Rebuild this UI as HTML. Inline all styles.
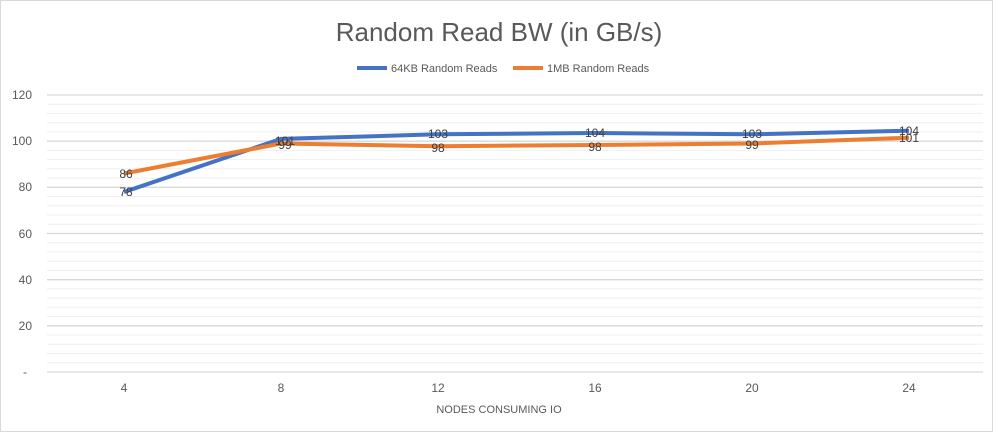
<!DOCTYPE html>
<html><head><style>
body{margin:0;background:#fff;}
svg text{font-family:"Liberation Sans",sans-serif;}
</style></head><body>
<svg width="999" height="433" viewBox="0 0 999 433">
<rect x="0.5" y="0.5" width="992" height="431" fill="#fff" stroke="#d9d9d9"/>
<text x="499" y="41" font-size="26" fill="#595959" text-anchor="middle">Random Read BW (in GB/s)</text>
<line x1="357" y1="68" x2="387" y2="68" stroke="#4472c4" stroke-width="4"/>
<text x="391" y="72" font-size="11" fill="#595959">64KB Random Reads</text>
<line x1="513" y1="68" x2="543" y2="68" stroke="#ed7d31" stroke-width="4"/>
<text x="547" y="72" font-size="11" fill="#595959">1MB Random Reads</text>
<g stroke="#efefef" stroke-width="1">
<line x1="47" x2="983" y1="104.2" y2="104.2"/><line x1="47" x2="983" y1="113.4" y2="113.4"/><line x1="47" x2="983" y1="122.7" y2="122.7"/><line x1="47" x2="983" y1="131.9" y2="131.9"/>
<line x1="47" x2="983" y1="150.4" y2="150.4"/><line x1="47" x2="983" y1="159.6" y2="159.6"/><line x1="47" x2="983" y1="168.8" y2="168.8"/><line x1="47" x2="983" y1="178.1" y2="178.1"/>
<line x1="47" x2="983" y1="196.5" y2="196.5"/><line x1="47" x2="983" y1="205.8" y2="205.8"/><line x1="47" x2="983" y1="215" y2="215"/><line x1="47" x2="983" y1="224.2" y2="224.2"/>
<line x1="47" x2="983" y1="242.7" y2="242.7"/><line x1="47" x2="983" y1="251.9" y2="251.9"/><line x1="47" x2="983" y1="261.2" y2="261.2"/><line x1="47" x2="983" y1="270.4" y2="270.4"/>
<line x1="47" x2="983" y1="288.9" y2="288.9"/><line x1="47" x2="983" y1="298.1" y2="298.1"/><line x1="47" x2="983" y1="307.3" y2="307.3"/><line x1="47" x2="983" y1="316.6" y2="316.6"/>
<line x1="47" x2="983" y1="335" y2="335"/><line x1="47" x2="983" y1="344.3" y2="344.3"/><line x1="47" x2="983" y1="353.5" y2="353.5"/><line x1="47" x2="983" y1="362.8" y2="362.8"/>
</g>
<g stroke="#d9d9d9" stroke-width="1.3">
<line x1="47" x2="983" y1="95" y2="95"/><line x1="47" x2="983" y1="141.2" y2="141.2"/><line x1="47" x2="983" y1="187.3" y2="187.3"/><line x1="47" x2="983" y1="233.5" y2="233.5"/><line x1="47" x2="983" y1="279.7" y2="279.7"/><line x1="47" x2="983" y1="325.8" y2="325.8"/><line x1="47" x2="983" y1="372" y2="372"/>
</g>
<g font-size="12" fill="#595959" text-anchor="end">
<text x="32" y="99">120</text><text x="32" y="145">100</text><text x="32" y="191">80</text><text x="32" y="238">60</text><text x="32" y="284">40</text><text x="32" y="330">20</text><text x="27" y="376">-</text>
</g>
<g font-size="12" fill="#595959" text-anchor="middle">
<text x="124" y="392">4</text><text x="281" y="392">8</text><text x="438" y="392">12</text><text x="595" y="392">16</text><text x="752" y="392">20</text><text x="909" y="392">24</text>
<text x="499" y="413" font-size="11">NODES CONSUMING IO</text>
</g>
<polyline fill="none" stroke="#4472c4" stroke-width="4" stroke-linejoin="round" points="124,192 281,138.9 438,134.3 595,133 752,134.3 909,130.7"/>
<polyline fill="none" stroke="#ed7d31" stroke-width="4" stroke-linejoin="round" points="124,173.5 281,143.5 438,146.2 595,145 752,143.5 909,137.7"/>
<g font-size="12" fill="#404040" text-anchor="middle">
<text x="126" y="178">86</text><text x="126" y="196">78</text>
<text x="285" y="145">101</text><text x="285" y="149">99</text>
<text x="438" y="138">103</text><text x="438" y="152">98</text>
<text x="595" y="137">104</text><text x="595" y="151">98</text>
<text x="752" y="138">103</text><text x="752" y="149">99</text>
<text x="909" y="135">104</text><text x="909" y="142">101</text>
</g>
</svg>
</body></html>
